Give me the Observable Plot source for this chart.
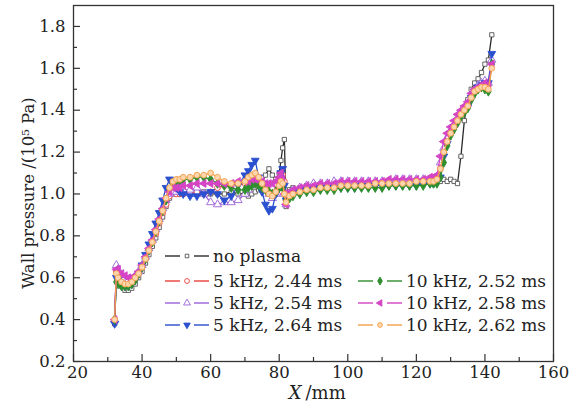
<!DOCTYPE html>
<html><head><meta charset="utf-8">
<script src="https://cdn.jsdelivr.net/npm/d3@7"></script>
<script src="https://cdn.jsdelivr.net/npm/@observablehq/plot@0.6"></script>
<style>
body{margin:0;background:#fff;}
#wrap{position:relative;width:586px;height:408px;font-family:"DejaVu Serif",serif;color:#222;background:#fff;}
.leg{position:absolute;display:flex;align-items:center;height:20px;font-size:17px;white-space:nowrap;color:#222;}
.leg svg{margin-right:4px;display:block;}
#ylab{position:absolute;left:29px;top:193px;transform:translate(-50%,-50%) rotate(-90deg);font-size:16.5px;white-space:nowrap;color:#222;line-height:1;}
</style></head><body><div id="wrap"></div>
<script>
// X positions (mm) shared by all series
const xs = [32,32.5,33,34,35,36,37,38,39,40,41,42,43,44,45,46,47,48,49,50,51,52,
  54,56,58,60,62,64,66,68,70,
  71,72,73,74,75,76,77,78,79,80,
  80.5,81,81.5,82,83,84,
  86,88,90,92,94,96,98,100,102,104,106,108,110,112,114,116,118,120,122,124,
  125,126,127,128,129,130,131,132,133,134,135,136,137,138,139,140,141,142];

const noPlasma = [0.38,0.62,0.58,0.56,0.54,0.54,0.55,0.57,0.60,0.63,0.67,0.71,0.75,0.79,0.84,0.89,0.94,0.98,1.00,1.00,1.00,1.00,
  1.00,1.00,1.01,1.00,1.00,1.00,1.01,1.00,1.00,
  0.99,1.00,1.01,1.02,1.05,1.09,1.12,1.09,1.07,1.10,
  1.16,1.22,1.26,0.94,1.02,1.03,
  1.03,1.04,1.04,1.04,1.04,1.05,1.05,1.05,1.05,1.05,1.05,1.05,1.05,1.05,1.06,1.06,1.06,1.06,1.06,1.06,
  1.06,1.06,1.06,1.07,1.06,1.07,1.06,1.05,1.18,1.35,1.45,1.50,1.53,1.55,1.58,1.62,1.64,1.76];

const khz5_244 = [0.40,0.63,0.62,0.59,0.58,0.58,0.58,0.60,0.62,0.65,0.69,0.73,0.77,0.81,0.86,0.91,0.95,0.99,1.01,1.00,1.00,1.00,
  1.00,1.01,1.00,1.01,1.03,1.04,1.04,1.05,1.05,
  1.05,1.06,1.06,1.05,1.04,1.03,1.02,1.03,1.05,1.07,
  1.08,1.09,1.06,0.97,0.99,1.00,
  1.01,1.02,1.03,1.03,1.03,1.04,1.04,1.04,1.04,1.04,1.05,1.05,1.05,1.05,1.05,1.05,1.06,1.06,1.06,1.06,
  1.06,1.07,1.12,1.20,1.25,1.29,1.32,1.35,1.38,1.40,1.42,1.46,1.49,1.50,1.52,1.53,1.52,1.63];

const khz5_254 = [0.40,0.66,0.64,0.61,0.60,0.59,0.59,0.61,0.63,0.66,0.70,0.74,0.78,0.83,0.88,0.93,0.97,1.00,1.01,1.01,1.02,1.02,
  1.02,1.03,1.00,0.96,0.95,0.96,0.96,0.97,1.00,
  1.02,1.04,1.05,1.05,1.04,1.02,1.00,0.98,1.00,1.03,
  1.05,1.04,1.00,0.95,1.00,1.02,
  1.03,1.04,1.05,1.05,1.05,1.06,1.06,1.06,1.06,1.06,1.06,1.06,1.06,1.06,1.07,1.07,1.07,1.07,1.07,1.07,
  1.07,1.08,1.15,1.22,1.27,1.30,1.33,1.36,1.39,1.41,1.43,1.47,1.50,1.52,1.53,1.54,1.53,1.64];

const khz5_264 = [0.38,0.60,0.59,0.57,0.56,0.56,0.57,0.59,0.62,0.66,0.71,0.76,0.81,0.86,0.91,0.97,1.03,1.07,1.06,1.03,1.01,1.00,
  0.99,0.99,1.00,1.01,1.00,0.97,0.99,1.04,1.09,
  1.11,1.14,1.16,1.08,1.01,0.95,0.92,0.93,1.00,1.06,
  1.10,1.12,1.04,0.97,1.00,1.01,
  1.02,1.02,1.03,1.03,1.03,1.03,1.03,1.03,1.03,1.04,1.04,1.04,1.04,1.04,1.04,1.04,1.04,1.04,1.05,1.05,
  1.05,1.06,1.08,1.18,1.24,1.29,1.32,1.35,1.38,1.40,1.42,1.46,1.49,1.51,1.52,1.53,1.53,1.67];

const khz10_252 = [0.40,0.58,0.57,0.56,0.56,0.56,0.57,0.59,0.62,0.65,0.69,0.73,0.77,0.82,0.87,0.92,0.97,1.02,1.05,1.06,1.06,1.07,
  1.07,1.08,1.08,1.07,1.05,1.04,1.03,1.02,1.02,
  1.03,1.04,1.05,1.04,1.03,1.02,1.01,1.00,1.01,1.03,
  1.04,1.03,1.00,0.97,0.98,0.99,
  1.00,1.01,1.01,1.02,1.02,1.02,1.03,1.03,1.03,1.03,1.03,1.03,1.03,1.04,1.04,1.04,1.04,1.04,1.04,1.05,
  1.05,1.05,1.08,1.15,1.23,1.28,1.31,1.34,1.37,1.39,1.41,1.45,1.48,1.50,1.51,1.50,1.49,1.62];

const khz10_258 = [0.40,0.64,0.64,0.62,0.61,0.60,0.60,0.61,0.63,0.66,0.70,0.74,0.78,0.83,0.88,0.93,0.98,1.01,1.03,1.03,1.03,1.04,
  1.04,1.05,1.05,1.05,1.05,1.05,1.05,1.06,1.06,
  1.06,1.07,1.07,1.07,1.06,1.05,1.05,1.05,1.06,1.08,
  1.10,1.07,1.00,0.95,1.01,1.02,
  1.03,1.04,1.04,1.05,1.05,1.05,1.06,1.06,1.06,1.06,1.06,1.06,1.06,1.07,1.07,1.07,1.07,1.07,1.07,1.08,
  1.08,1.09,1.18,1.25,1.29,1.32,1.35,1.38,1.40,1.42,1.44,1.48,1.50,1.51,1.52,1.53,1.52,1.62];

const khz10_262 = [0.40,0.62,0.60,0.58,0.57,0.57,0.58,0.60,0.62,0.65,0.69,0.73,0.77,0.82,0.87,0.92,0.98,1.03,1.06,1.07,1.07,1.08,
  1.08,1.09,1.09,1.10,1.08,1.06,1.05,1.05,1.06,
  1.08,1.09,1.10,1.08,1.05,1.02,1.00,0.99,1.01,1.04,
  1.06,1.05,1.00,0.96,0.99,1.00,
  1.01,1.02,1.02,1.03,1.03,1.03,1.04,1.04,1.04,1.04,1.04,1.05,1.05,1.05,1.05,1.05,1.05,1.06,1.06,1.06,
  1.06,1.07,1.12,1.20,1.25,1.29,1.32,1.35,1.38,1.40,1.42,1.46,1.49,1.50,1.51,1.51,1.50,1.60];

const seriesNames = ["no plasma","5 kHz, 2.44 ms","5 kHz, 2.54 ms","5 kHz, 2.64 ms","10 kHz, 2.52 ms","10 kHz, 2.58 ms","10 kHz, 2.62 ms"];
const seriesValues = [noPlasma, khz5_244, khz5_254, khz5_264, khz10_252, khz10_258, khz10_262];
const seriesColors = ["#2a2a2a","#e8413a","#9a62d8","#2a4fcf","#2f8f2f","#d444c4","#f4a04a"];

const xTicks = [20,40,60,80,100,120,140,160];
const xMinor = [30,50,70,90,110,130,150];
const yTicks = [0.2,0.4,0.6,0.8,1.0,1.2,1.4,1.6,1.8];
const yMinor = [0.3,0.5,0.7,0.9,1.1,1.3,1.5,1.7];
const yTitle = "Wall pressure /(10\u2075 Pa)";

// custom marker shapes
const downTri = {draw(ctx, size){ const r = Math.sqrt(size/1.5); ctx.moveTo(-r*0.87,-r*0.5); ctx.lineTo(r*0.87,-r*0.5); ctx.lineTo(0,r); ctx.closePath(); }};
const leftTri = {draw(ctx, size){ const r = Math.sqrt(size/1.5); ctx.moveTo(-r,0); ctx.lineTo(r*0.5,-r*0.87); ctx.lineTo(r*0.5,r*0.87); ctx.closePath(); }};

const markerStyle = [
  {symbol:"square", r:2.4, fill:"#fff", stroke:"#555"},
  {symbol:"circle", r:2.9, fill:"#fff", stroke:seriesColors[1]},
  {symbol:"triangle", r:3.0, fill:"#fff", stroke:seriesColors[2]},
  {symbol:downTri, r:3.1, fill:seriesColors[3], stroke:seriesColors[3]},
  {symbol:"diamond", r:2.9, fill:seriesColors[4], stroke:seriesColors[4]},
  {symbol:leftTri, r:3.1, fill:seriesColors[5], stroke:seriesColors[5]},
  {symbol:"circle", r:2.9, fill:"#fcd6ae", stroke:seriesColors[6]}
];

const marks = [];
seriesValues.forEach((vals, k) => {
  const data = xs.map((x, i) => ({x, y: vals[i]}));
  const m = markerStyle[k];
  marks.push(Plot.line(data, {x:"x", y:"y", stroke: seriesColors[k], strokeWidth: 1.3}));
  marks.push(Plot.dot(data, {x:"x", y:"y", symbol: m.symbol, r: m.r, fill: m.fill, stroke: m.stroke, strokeWidth: 0.9}));
});

const axisStroke = "#333";
const chart = Plot.plot({
  width: 586, height: 408,
  marginLeft: 73, marginRight: 33, marginTop: 5, marginBottom: 47,
  x: {domain: [20, 160], label: null},
  y: {domain: [0.2, 1.9], label: null},
  style: {fontFamily: "DejaVu Serif", fontSize: "16.5px", color: "#222", background: "#fff"},
  marks: [
    ...marks,
    Plot.axisX(xTicks, {tickSize: -7, fill: "none", stroke: axisStroke, strokeWidth: 1.2, label: null}),
    Plot.axisX(xMinor, {tickSize: -4, fill: "none", stroke: axisStroke, strokeWidth: 1.2, label: null}),
    Plot.axisX(xTicks.slice(1), {tickSize: 0, tickPadding: 5, label: null, fontSize: 16.5}),
    Plot.axisX(xTicks.slice(0,1), {tickSize: 0, tickPadding: 5, dx: 4, label: null, fontSize: 16.5}),
    Plot.axisY(yTicks, {tickSize: -7, fill: "none", stroke: axisStroke, strokeWidth: 1.2, label: null}),
    Plot.axisY(yMinor, {tickSize: -4, fill: "none", stroke: axisStroke, strokeWidth: 1.2, label: null}),
    Plot.axisY(yTicks, {tickSize: 0, tickPadding: 8, tickFormat: d3.format(".1f"), label: null, fontSize: 16.5}),
    Plot.frame({stroke: axisStroke, strokeWidth: 1.3}),
    Plot.text(["X"], {text: d => d, frameAnchor: "bottom", textAnchor: "end", fontStyle: "italic", dx: -12, dy: 37, fontSize: 18, fill: "#222"}),
    Plot.text(["/mm"], {text: d => d, frameAnchor: "bottom", textAnchor: "start", dx: -8, dy: 37, fontSize: 18, fill: "#222"})
  ]
});
const wrap = document.getElementById("wrap");
wrap.appendChild(chart);

const ylab = document.createElement("div");
ylab.id = "ylab";
ylab.textContent = yTitle;
wrap.appendChild(ylab);

// legend inside plot area
const legendPos = [[165,256],[165,280.5],[165,302.5],[165,324.5],[358,280.5],[358,302.5],[358,324.5]];
seriesNames.forEach((name, k) => {
  const [lx, ly] = legendPos[k];
  const div = document.createElement("div");
  div.className = "leg";
  div.style.left = lx + "px";
  div.style.top = (ly - 10) + "px";
  const m = markerStyle[k];
  const type = typeof m.symbol === "string" ? {square: d3.symbolSquare, circle: d3.symbolCircle, triangle: d3.symbolTriangle, diamond: d3.symbolDiamond}[m.symbol] : m.symbol;
  const path = d3.symbol(type, Math.PI * m.r * m.r * 0.7)();
  div.innerHTML = `<svg width="44" height="20"><line x1="0" x2="15" y1="10" y2="10" stroke="${seriesColors[k]}" stroke-width="1.4"/><line x1="29" x2="44" y1="10" y2="10" stroke="${seriesColors[k]}" stroke-width="1.4"/><path d="${path}" transform="translate(22,10)" fill="${m.fill}" stroke="${m.stroke}" stroke-width="0.9"/></svg><span>${name}</span>`;
  wrap.appendChild(div);
});
</script></body></html>
